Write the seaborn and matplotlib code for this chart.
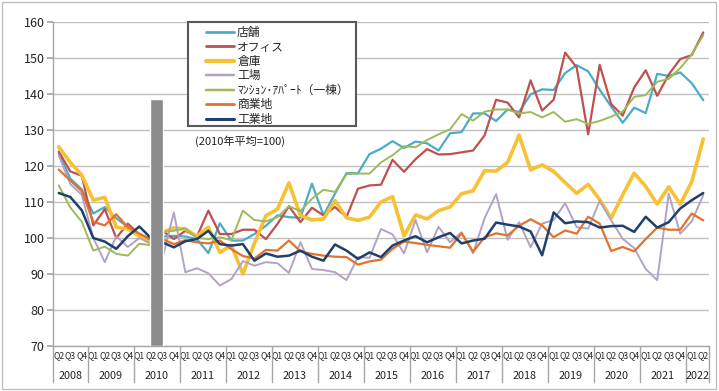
import numpy as np
import pandas as pd
import matplotlib
matplotlib.use("Agg")
import matplotlib.pyplot as plt
import matplotlib.transforms as mtransforms
from matplotlib.patches import Rectangle
from matplotlib.lines import Line2D
import seaborn as sns

# ---------------- data ----------------
years = [2008] * 3 + [y for y in range(2009, 2022) for _ in range(4)] + [2022] * 2
quarters = ["Q2", "Q3", "Q4"] + ["Q1", "Q2", "Q3", "Q4"] * 13 + ["Q1", "Q2"]

shop = [123.5, 116.5, 113.5, 106.8, 108.6, 105.5, 103.0, 101.0, 99.5, 100.4, 100.6,
        100.4, 99.7, 95.8, 104.1, 99.3, 99.3, 101.1, 103.4, 106.3, 105.8, 105.6,
        115.1, 106.3, 112.3, 118.0, 118.0, 123.3, 124.8, 126.9, 125.0, 126.8, 126.3,
        124.3, 129.1, 129.4, 134.6, 134.6, 132.5, 135.7, 135.0, 139.9, 141.3, 141.1,
        145.8, 148.0, 146.3, 141.2, 136.5, 132.0, 136.2, 134.7, 145.6, 145.0, 146.0,
        143.0, 138.3]
office = [124.0, 118.5, 117.3, 103.5, 108.0, 100.0, 104.0, 101.0, 99.5, 102.0, 99.7,
          102.0, 100.4, 107.6, 101.1, 101.1, 102.3, 102.3, 99.7, 103.9, 108.8, 104.4,
          108.4, 106.3, 108.6, 105.8, 113.7, 114.6, 114.8, 121.7, 118.4, 121.9, 124.7,
          123.2, 123.3, 123.8, 124.3, 128.5, 138.4, 137.6, 133.5, 143.8, 135.4, 138.4,
          151.5, 147.4, 128.8, 148.1, 137.2, 134.0, 141.8, 146.6, 139.5, 145.4, 149.7,
          150.8, 157.1]
warehouse = [125.3, 121.0, 117.5, 110.5, 111.3, 103.0, 102.5, 100.5, 98.5, 101.6, 102.8,
             102.5, 100.5, 103.0, 96.0, 98.0, 90.0, 98.5, 106.2, 108.0, 115.3, 106.3,
             105.0, 105.3, 110.4, 105.6, 104.9, 105.8, 110.0, 111.5, 100.6, 106.4, 105.3,
             107.6, 108.6, 112.3, 113.1, 118.7, 118.6, 121.0, 128.6, 118.9, 120.3, 118.5,
             115.4, 112.4, 114.9, 110.7, 105.5, 112.0, 118.0, 114.3, 109.4, 114.2, 109.4,
             115.6, 127.5]
factory = [123.0, 115.0, 112.0, 100.0, 93.3, 100.5, 97.5, 100.0, 98.5, 94.2, 107.1,
           90.5, 91.6, 90.2, 86.8, 88.6, 93.6, 92.3, 93.3, 93.0, 90.3, 98.8,
           91.4, 91.1, 90.5, 88.3, 94.7, 94.5, 102.5, 101.0, 95.7, 105.0, 96.0,
           103.1, 98.8, 101.6, 95.8, 105.5, 112.2, 99.5, 104.4, 97.4, 104.0, 105.0,
           109.7, 103.0, 102.6, 110.3, 104.9, 99.8, 97.2, 91.4, 88.3, 112.3, 101.2,
           104.6, 111.9]
apartment = [114.6, 108.5, 104.5, 96.5, 97.6, 95.6, 95.1, 98.4, 98.0, 101.6, 102.0,
             102.7, 100.0, 99.7, 100.2, 99.4, 107.6, 105.0, 104.6, 105.8, 108.8, 107.5,
             110.9, 113.4, 112.8, 117.7, 117.9, 117.9, 121.0, 123.0, 125.5, 125.2, 127.2,
             128.8, 130.2, 134.4, 132.6, 135.1, 135.7, 135.7, 134.6, 135.0, 133.5, 135.0,
             132.3, 133.0, 131.7, 132.5, 133.7, 135.1, 139.2, 139.7, 143.4, 144.2, 147.2,
             151.0, 156.3]
commercial_land = [119.0, 116.0, 113.0, 104.5, 103.5, 106.6, 103.0, 101.2, 99.7, 99.7, 98.3,
                   99.4, 98.8, 98.5, 99.3, 96.9, 95.0, 94.3, 96.7, 96.5, 99.3, 96.3,
                   95.6, 95.1, 94.8, 94.7, 92.6, 93.5, 94.0, 97.0, 99.0, 98.6, 98.1,
                   97.7, 97.3, 101.3, 96.2, 100.2, 101.3, 100.7, 103.4, 105.2, 103.5, 100.2,
                   102.1, 101.2, 105.9, 104.0, 96.4, 97.5, 96.3, 99.7, 102.9, 102.3, 102.3,
                   106.8, 104.9]
industrial_land = [112.5, 111.4, 107.7, 100.0, 99.0, 97.0, 100.5, 103.2, 100.0, 98.8, 97.4,
                   99.1, 99.7, 102.0, 98.3, 97.9, 98.3, 93.7, 95.7, 94.8, 95.1, 96.5,
                   94.8, 93.7, 98.2, 96.5, 94.2, 96.0, 94.7, 97.9, 99.3, 100.5, 98.8,
                   100.2, 101.4, 98.5, 99.3, 99.8, 104.3, 103.7, 103.2, 101.8, 95.2, 107.1,
                   104.1, 104.6, 104.4, 102.9, 103.3, 103.4, 101.7, 105.9, 102.9, 104.4, 108.2,
                   110.5, 112.5]

series_names = ["店舗", "オフィス", "倉庫", "工場", "ﾏﾝｼｮﾝ･ｱﾊﾟｰﾄ（一棟）", "商業地", "工業地"]
series_values = [shop, office, warehouse, factory, apartment, commercial_land, industrial_land]

base_year = 2010
base_bar_value = 138.6
note_text = "(2010年平均=100)"

# ---------------- style ----------------
colors = ["#4BACC6", "#C0504D", "#F8C033", "#B3A2C7", "#9BBB59", "#E2722C", "#1F3F6E"]
widths = [1.6, 1.6, 2.6, 1.4, 1.4, 1.6, 1.8]

sns.set_theme(style="white")
plt.rcParams['font.family'] = ['Noto Sans CJK JP', 'DejaVu Sans']

W, H = 719, 391
fig = plt.figure(figsize=(W / 100, H / 100), dpi=100)
ax = fig.add_axes([53 / W, 1 - 346 / H, (709 - 53) / W, (346 - 22) / H])

idx = np.arange(len(quarters))
frames = []
for name, vals in zip(series_names, series_values):
    frames.append(pd.DataFrame({"idx": idx, "value": vals, "series": name}))
data = pd.concat(frames, ignore_index=True)

for name, color, lw in zip(series_names, colors, widths):
    sub = data[data["series"] == name]
    sns.lineplot(data=sub, x="idx", y="value", color=color, linewidth=lw,
                 ax=ax, sort=False, legend=False, zorder=3)

# gray bar marking the base year
base_idx = idx[np.array(years) == base_year]
ax.bar([base_idx.mean()], [base_bar_value - 70], bottom=70, width=1.1,
       color="#8C8C8C", zorder=5)

ax.set_xlim(-0.5, len(idx) - 0.5)
ax.set_ylim(70, 160)
ax.set_yticks(np.arange(70, 161, 10))
ax.yaxis.grid(True, color="#BFBFBF", linewidth=1.0)
ax.set_axisbelow(True)
ax.set_xlabel("")
ax.set_ylabel("")
for s in ["top", "right"]:
    ax.spines[s].set_visible(False)
for s in ["left", "bottom"]:
    ax.spines[s].set_color("#A6A6A6")
    ax.spines[s].set_linewidth(1.0)
ax.tick_params(axis="y", length=4, color="#A6A6A6", labelsize=9, labelcolor="#222222",
               pad=2, left=True)
ax.set_xticks(idx)
ax.set_xticklabels(quarters, fontsize=6.2, color="#222222")
ax.tick_params(axis="x", length=0, pad=4)

# year labels and separators
trans = mtransforms.blended_transform_factory(ax.transData, ax.transAxes)
yrs = np.array(years)
for y in sorted(set(years)):
    pos = idx[yrs == y]
    ax.text(pos.mean(), -0.092, str(y), transform=trans, ha="center", va="center",
            fontsize=7.8, color="#222222")
bounds = [-0.5] + [i + 0.5 for i in range(len(years) - 1) if years[i] != years[i + 1]] + [len(years) - 0.5]
for b in bounds:
    ax.plot([b, b], [0, -0.112], transform=trans, color="#A6A6A6", lw=1.0, clip_on=False)

# legend (frameless) + separate box
handles = [Line2D([0], [0], color=c, lw=lw + 0.4) for c, lw in zip(colors, widths)]
leg = ax.legend(handles, series_names, loc="upper left", bbox_to_anchor=(0.2275, 1.0),
                frameon=False, fontsize=8.5, handlelength=2.3,
                handletextpad=0.3, labelspacing=0.12, borderpad=0.35, borderaxespad=0.0)
leg.set_zorder(10)
ax.add_patch(Rectangle((0.2058, 0.679), 0.4619 - 0.2058, 1.0 - 0.679,
                       transform=ax.transAxes, facecolor="white", edgecolor="#595959",
                       linewidth=1.5, zorder=9, clip_on=False))

ax.text(0.216, 0.633, note_text, transform=ax.transAxes, fontsize=8,
        color="#222222", ha="left", va="center")

fig.patches.append(Rectangle((0.003, 0.004), 0.993, 0.991, transform=fig.transFigure,
                             fill=False, edgecolor="#BFBFBF", linewidth=1.0))

fig.savefig("out.png", dpi=100)
